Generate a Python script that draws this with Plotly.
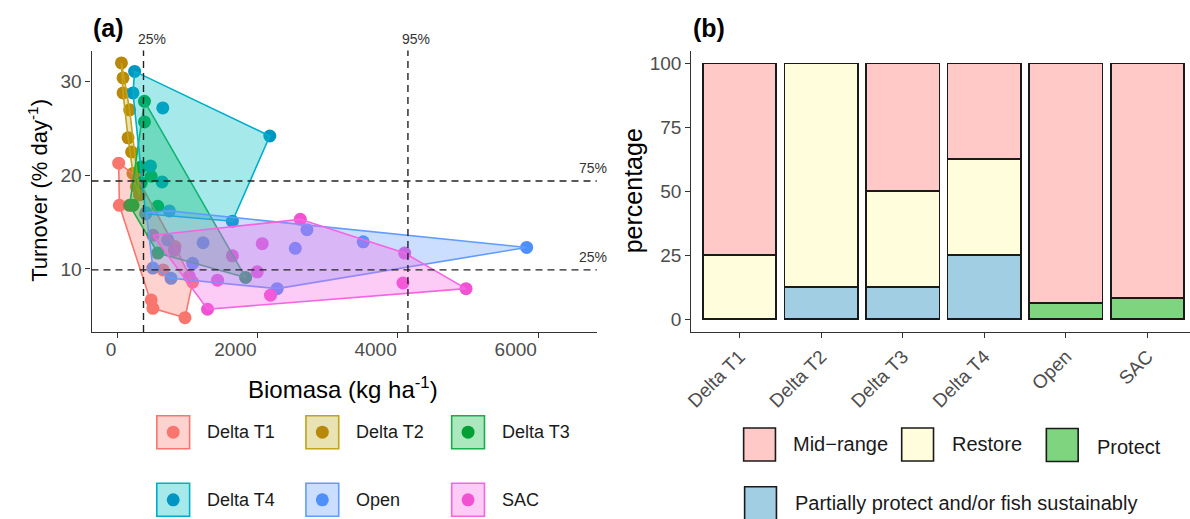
import plotly.graph_objects as go

W, H = 1190, 519
FONT = "Liberation Sans, Arial, sans-serif"

# ---------------- data: panel (a) ----------------
groups = ["Delta T1", "Delta T2", "Delta T3", "Delta T4", "Open", "SAC"]

t1_x = [16, 26, 268, 479, 504, 962, 1071, 650, 820]
t1_y = [21.3, 16.8, 19.9, 6.7, 5.8, 4.8, 8.6, 9.9, 12.4]

t2_x = [55, 78, 78, 172, 150, 220, 267, 313, 200]
t2_y = [32.0, 30.4, 28.8, 27.0, 24.0, 20.2, 18.8, 17.9, 22.5]

t3_x = [384, 384, 338, 338, 172, 220, 574, 574, 1827, 479]
t3_y = [27.9, 25.7, 20.9, 19.2, 16.8, 16.8, 16.7, 11.7, 9.1, 19.9]

t4_x = [243, 220, 645, 2172, 635, 1638, 400, 470]
t4_y = [31.1, 28.8, 27.2, 24.2, 19.3, 15.1, 15.9, 21.0]

open_x = [5837, 2702, 2536, 3505, 2277, 1071, 763, 504, 409, 739, 716, 1220]
open_y = [12.3, 14.2, 12.2, 12.9, 7.9, 10.6, 9.0, 10.1, 16.0, 16.2, 13.1, 12.8]

sac_x = [4972, 4072, 4096, 2607, 2064, 1638, 1993, 1426, 1284, 2182, 810, 504, 1023]
sac_y = [7.9, 8.5, 11.7, 15.3, 12.7, 11.4, 9.7, 8.8, 5.7, 7.2, 12.0, 13.6, 9.2]

xs_all = [t1_x, t2_x, t3_x, t4_x, open_x, sac_x]
ys_all = [t1_y, t2_y, t3_y, t4_y, open_y, sac_y]

# quantile reference lines
biomass_q = [370, 4143]
biomass_q_labels = ["25%", "95%"]
turnover_q = [19.4, 9.9]
turnover_q_labels = ["75%", "25%"]

x_ticks_a = [0, 2000, 4000, 6000]
y_ticks_a = [10, 20, 30]

# ---------------- data: panel (b) ----------------
sites = ["Delta T1", "Delta T2", "Delta T3", "Delta T4", "Open", "SAC"]
partial = [None, 12.5, 12.5, 25, None, None]
protect = [None, None, None, None, 6.25, 8.33]
restore = [25, 87.5, 37.5, 37.5, None, None]
midrange = [75, None, 50, 37.5, 93.75, 91.67]
y_ticks_b = [0, 25, 50, 75, 100]

# ---------------- styles ----------------
dot_colors = ["#F8766D", "#B8880B", "#00A035", "#0096C2", "#4E8FFA", "#F052D2"]
line_colors = ["#F8766D", "#C4A21A", "#1AAE4A", "#00AECB", "#619CFF", "#F564E3"]
fill_colors = ["rgba(248,118,109,0.33)", "rgba(183,159,0,0.30)", "rgba(0,186,56,0.33)",
               "rgba(0,191,196,0.35)", "rgba(97,156,255,0.33)", "rgba(245,100,227,0.33)"]
bar_colors = {"Mid-range": "#FFC9C7", "Restore": "#FFFDDC", "Protect": "#7FD47F",
              "Partially protect and/or fish sustainably": "#A2CEE3"}


def hull(xs, ys):
    pts = sorted(set(zip(xs, ys)))
    if len(pts) < 3:
        return pts

    def cross(o, a, b):
        return (a[0] - o[0]) * (b[1] - o[1]) - (a[1] - o[1]) * (b[0] - o[0])

    lower, upper = [], []
    for p in pts:
        while len(lower) >= 2 and cross(lower[-2], lower[-1], p) <= 0:
            lower.pop()
        lower.append(p)
    for p in reversed(pts):
        while len(upper) >= 2 and cross(upper[-2], upper[-1], p) <= 0:
            upper.pop()
        upper.append(p)
    h = lower[:-1] + upper[:-1]
    return h + [h[0]]


fig = go.Figure()

# points first (polygons drawn over them, as in the reference)
for i, g in enumerate(groups):
    fig.add_trace(go.Scatter(x=xs_all[i], y=ys_all[i], mode="markers", name=g,
                             marker=dict(size=13, color=dot_colors[i]),
                             xaxis="x", yaxis="y", showlegend=False, hoverinfo="skip"))
for i, g in enumerate(groups):
    h = hull(xs_all[i], ys_all[i])
    fig.add_trace(go.Scatter(x=[p[0] for p in h], y=[p[1] for p in h], mode="lines",
                             fill="toself", fillcolor=fill_colors[i],
                             line=dict(color=line_colors[i], width=1.6),
                             xaxis="x", yaxis="y", showlegend=False, hoverinfo="skip"))

# panel (b) stacked bars
for name, vals in [("Partially protect and/or fish sustainably", partial),
                   ("Protect", protect), ("Restore", restore), ("Mid-range", midrange)]:
    fig.add_trace(go.Bar(x=sites, y=vals, name=name, width=0.9,
                         marker=dict(color=bar_colors[name], line=dict(color="#1a1a1a", width=1.6)),
                         xaxis="x2", yaxis="y2", showlegend=False))


def px(x):
    return x / W


def py(y):
    return 1 - y / H


ydom = [py(332), py(50.5)]
axis_common = dict(showgrid=False, zeroline=False, showline=True, linecolor="#333333",
                   linewidth=1.2, ticks="outside", ticklen=5, tickcolor="#333333",
                   tickwidth=1.2, tickfont=dict(family=FONT, size=19, color="#4D4D4D"))

fig.update_layout(
    width=W, height=H, margin=dict(l=0, r=0, t=0, b=0),
    plot_bgcolor="white", paper_bgcolor="white", showlegend=False,
    barmode="stack", font=dict(family=FONT),
    xaxis=dict(domain=[px(85), px(593.3)], range=[-372, 6838], tickvals=x_ticks_a,
               ticklabelposition="outside left", anchor="y", **axis_common),
    yaxis=dict(domain=ydom, range=[3.27, 33.33], tickvals=y_ticks_a, anchor="x", **axis_common),
    xaxis2=dict(domain=[px(688.4), 1.0], range=[-0.59, 5.52], type="category",
                tickangle=-45, anchor="y2", **axis_common),
    yaxis2=dict(domain=ydom, range=[-5, 105], tickvals=y_ticks_b, anchor="x2", **axis_common),
)

shapes = []
for v in biomass_q:
    shapes.append(dict(type="line", xref="x", yref="y domain", x0=v, x1=v, y0=0, y1=1,
                       line=dict(color="#222222", width=1.4, dash="7px,5px")))
for v in turnover_q:
    shapes.append(dict(type="line", xref="x domain", yref="y", x0=0, x1=1, y0=v, y1=v,
                       line=dict(color="#222222", width=1.4, dash="7px,5px")))

ann = []


def text(t, x, y, size, color="#1a1a1a", xanchor="center", angle=0, xref="paper", yref="paper",
         **kw):
    ann.append(dict(text=t, x=x, y=y, xref=xref, yref=yref, xanchor=xanchor, yanchor="middle",
                    textangle=angle, showarrow=False,
                    font=dict(size=size, color=color, family=FONT), **kw))


text("<b>(a)</b>", px(101.7), py(27.5), 25, "black")
text("<b>(b)</b>", px(706), py(28), 25, "black")
for v, lab in zip(biomass_q, biomass_q_labels):
    text(lab, v, py(39), 14, "#333333", xanchor="left", xref="x", xshift=-8)
for v, lab in zip(turnover_q, turnover_q_labels):
    text(lab, px(606), v, 14, "#333333", xanchor="right", yref="y", yshift=13)

text("Turnover (% day<sup>-1</sup>)", px(31), py(190), 22, "black", angle=-90)
text("Biomasa (kg ha<sup>-1</sup>)", px(338), py(388), 24, "black")
text("percentage", px(630), py(191), 25, "black", angle=-90)

# legend (a)
leg_a = [(groups[0], 150.7, 415.7, 199), (groups[1], 300.7, 415.7, 349), (groups[2], 447.3, 415.7, 496),
         (groups[3], 150.7, 483.3, 199), (groups[4], 300.7, 483.3, 349), (groups[5], 447.3, 483.3, 496)]
for i, (g, bx, by, tx) in enumerate(leg_a):
    shapes.append(dict(type="rect", xref="paper", yref="paper", x0=px(bx), x1=px(bx + 33),
                       y0=py(by + 33), y1=py(by), fillcolor=fill_colors[i],
                       line=dict(color=line_colors[i], width=1.6)))
    cx, cy = bx + 16.5, by + 16.5
    shapes.append(dict(type="circle", xref="paper", yref="paper", x0=px(cx - 6.5), x1=px(cx + 6.5),
                       y0=py(cy + 6.5), y1=py(cy - 6.5), fillcolor=dot_colors[i],
                       line=dict(width=0)))
    text(g, px(tx), py(cy), 18, "#1a1a1a", xanchor="left")

# legend (b)
leg_b = [("Mid-range", 741, 428, 789, 444), ("Restore", 900, 428, 949, 444),
         ("Protect", 1045.5, 428.5, 1094.5, 446.5),
         ("Partially protect and/or fish sustainably", 742, 486.7, 791, 503)]
for name, bx, by, tx, ty in leg_b:
    shapes.append(dict(type="rect", xref="paper", yref="paper", x0=px(bx), x1=px(bx + 32),
                       y0=py(by + 33), y1=py(by), fillcolor=bar_colors[name],
                       line=dict(color="#1a1a1a", width=1.6)))
    label = name.replace("Mid-range", "Mid\u2212range")
    text(label, px(tx), py(ty), 20, "#1a1a1a", xanchor="left")

fig.update_layout(shapes=shapes, annotations=ann)
fig.write_html("out.html")
